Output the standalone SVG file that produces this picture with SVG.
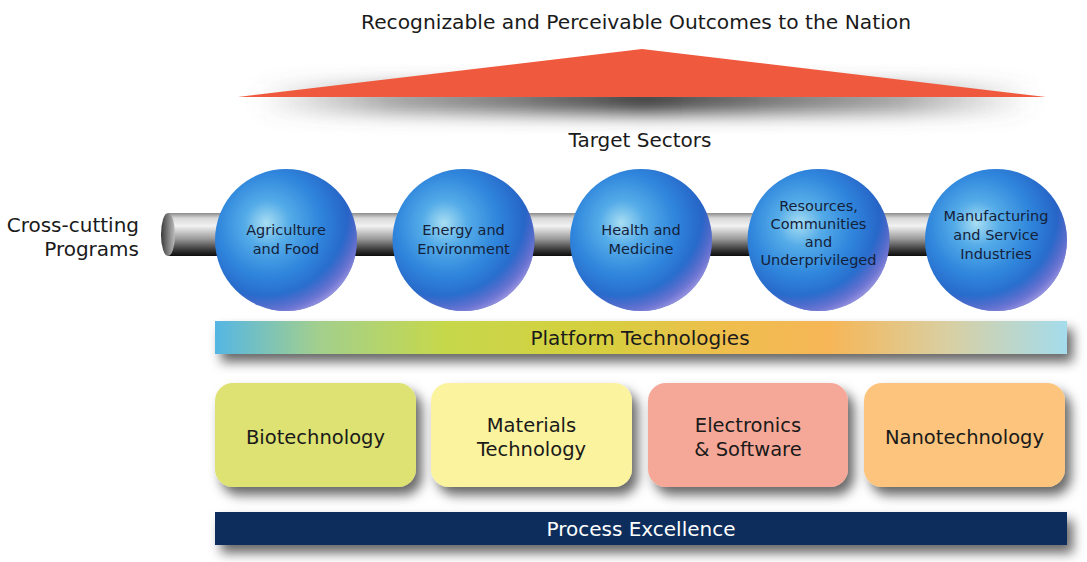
<svg xmlns="http://www.w3.org/2000/svg" width="1087" height="562" viewBox="0 0 1087 562">
<defs>
<style>
.t{font-family:"DejaVu Sans","Open Sans","Liberation Sans",sans-serif;fill:#1a1a1a;}
.big{font-size:20px;}
.box{font-size:19.5px;}
.sec{font-size:14.5px;fill:#14213a;}
</style>
<linearGradient id="pipe" x1="0" y1="0" x2="0" y2="1">
<stop offset="0" stop-color="#8c8c8c"/>
<stop offset="0.12" stop-color="#d8d8d8"/>
<stop offset="0.3" stop-color="#f2f2f2"/>
<stop offset="0.6" stop-color="#9a9a9a"/>
<stop offset="0.85" stop-color="#3a3a3a"/>
<stop offset="1" stop-color="#0c0c0c"/>
</linearGradient>
<linearGradient id="cap" x1="0" y1="0" x2="1" y2="0">
<stop offset="0" stop-color="#3a3a3a"/>
<stop offset="0.6" stop-color="#8a8a8a"/>
<stop offset="1" stop-color="#bdbdbd"/>
</linearGradient>
<radialGradient id="ball" cx="0.4" cy="0.4" r="0.72" fx="0.36" fy="0.38">
<stop offset="0" stop-color="#a8def3"/>
<stop offset="0.22" stop-color="#55ace8"/>
<stop offset="0.5" stop-color="#2f86dc"/>
<stop offset="0.75" stop-color="#2766c8"/>
<stop offset="1" stop-color="#2348a8"/>
</radialGradient>
<radialGradient id="rim" cx="0.34" cy="0.3" r="0.8">
<stop offset="0.74" stop-color="#8f7ad8" stop-opacity="0"/>
<stop offset="0.88" stop-color="#9a86e0" stop-opacity="0.6"/>
<stop offset="1" stop-color="#d0c0f4" stop-opacity="0.95"/>
</radialGradient>
<linearGradient id="plat" x1="0" y1="0" x2="1" y2="0">
<stop offset="0" stop-color="#55b6e4"/>
<stop offset="0.12" stop-color="#a2cf8e"/>
<stop offset="0.27" stop-color="#c6d84a"/>
<stop offset="0.45" stop-color="#d6cf3e"/>
<stop offset="0.6" stop-color="#efbe4e"/>
<stop offset="0.72" stop-color="#f6b656"/>
<stop offset="0.86" stop-color="#d9cfa2"/>
<stop offset="1" stop-color="#a4dcec"/>
</linearGradient>
<linearGradient id="trishadow" x1="0" y1="0" x2="1" y2="0">
<stop offset="0" stop-color="#666" stop-opacity="0"/>
<stop offset="0.18" stop-color="#555" stop-opacity="0.55"/>
<stop offset="0.5" stop-color="#3a3a3a" stop-opacity="1"/>
<stop offset="0.82" stop-color="#555" stop-opacity="0.55"/>
<stop offset="1" stop-color="#666" stop-opacity="0"/>
</linearGradient>
<filter id="sh" x="-10%" y="-30%" width="125%" height="190%">
<feDropShadow dx="6" dy="8" stdDeviation="6" flood-color="#000" flood-opacity="0.6"/>
</filter>
<filter id="blur" x="-20%" y="-150%" width="140%" height="400%">
<feGaussianBlur stdDeviation="9"/>
</filter>
</defs>
<rect width="1087" height="562" fill="#ffffff"/>

<g id="outcomes">
<text class="t big" x="636" y="29" text-anchor="middle" textLength="550" lengthAdjust="spacingAndGlyphs">Recognizable and Perceivable Outcomes to the Nation</text>
<rect x="255" y="84" width="780" height="30" fill="url(#trishadow)" filter="url(#blur)"/>
<polygon points="238,97 642,49 1046,97" fill="#ef5a3e"/>
</g>

<g id="target-sectors-label">
<text class="t big" x="640" y="147" text-anchor="middle">Target Sectors</text>
</g>

<g id="cross-cutting">
<text class="t big" x="139" y="232" text-anchor="end">Cross-cutting</text>
<text class="t big" x="139" y="256" text-anchor="end">Programs</text>
</g>

<g id="connectors">
<rect x="168" y="213" width="830" height="43" fill="url(#pipe)"/>
<ellipse cx="168" cy="234.5" rx="7" ry="21.5" fill="url(#cap)"/>
</g>

<g id="agriculture">
<circle cx="286" cy="240" r="71" fill="url(#ball)"/>
<circle cx="286" cy="240" r="71" fill="url(#rim)"/>
<text class="t sec" x="286" y="235" text-anchor="middle">Agriculture</text>
<text class="t sec" x="286" y="254" text-anchor="middle">and Food</text>
</g>
<g id="energy">
<circle cx="463.5" cy="240" r="71" fill="url(#ball)"/>
<circle cx="463.5" cy="240" r="71" fill="url(#rim)"/>
<text class="t sec" x="463.5" y="235" text-anchor="middle">Energy and</text>
<text class="t sec" x="463.5" y="254" text-anchor="middle">Environment</text>
</g>
<g id="health">
<circle cx="641" cy="240" r="71" fill="url(#ball)"/>
<circle cx="641" cy="240" r="71" fill="url(#rim)"/>
<text class="t sec" x="641" y="235" text-anchor="middle">Health and</text>
<text class="t sec" x="641" y="254" text-anchor="middle">Medicine</text>
</g>
<g id="resources">
<circle cx="818.5" cy="240" r="71" fill="url(#ball)"/>
<circle cx="818.5" cy="240" r="71" fill="url(#rim)"/>
<text class="t sec" x="818.5" y="211" text-anchor="middle">Resources,</text>
<text class="t sec" x="818.5" y="229" text-anchor="middle">Communities</text>
<text class="t sec" x="818.5" y="247" text-anchor="middle">and</text>
<text class="t sec" x="818.5" y="265" text-anchor="middle">Underprivileged</text>
</g>
<g id="manufacturing">
<circle cx="996" cy="240" r="71" fill="url(#ball)"/>
<circle cx="996" cy="240" r="71" fill="url(#rim)"/>
<text class="t sec" x="996" y="221" text-anchor="middle">Manufacturing</text>
<text class="t sec" x="996" y="240" text-anchor="middle">and Service</text>
<text class="t sec" x="996" y="259" text-anchor="middle">Industries</text>
</g>

<g id="platform">
<rect x="215" y="321" width="852" height="33" fill="url(#plat)" filter="url(#sh)"/>
<text class="t big" x="640" y="345" text-anchor="middle">Platform Technologies</text>
</g>

<g id="biotechnology">
<rect x="215" y="383" width="201" height="104" rx="18" fill="#dde273" filter="url(#sh)"/>
<text class="t box" x="315.5" y="444" text-anchor="middle">Biotechnology</text>
</g>
<g id="materials">
<rect x="431" y="383" width="201" height="104" rx="18" fill="#fbf39e" filter="url(#sh)"/>
<text class="t box" x="531.5" y="432" text-anchor="middle">Materials</text>
<text class="t box" x="531.5" y="456" text-anchor="middle">Technology</text>
</g>
<g id="electronics">
<rect x="648" y="383" width="200" height="104" rx="18" fill="#f6a898" filter="url(#sh)"/>
<text class="t box" x="748" y="432" text-anchor="middle">Electronics</text>
<text class="t box" x="748" y="456" text-anchor="middle">&amp; Software</text>
</g>
<g id="nanotechnology">
<rect x="864" y="383" width="201" height="104" rx="18" fill="#fcc47c" filter="url(#sh)"/>
<text class="t box" x="964.5" y="444" text-anchor="middle">Nanotechnology</text>
</g>

<g id="process">
<rect x="215" y="512" width="852" height="33" fill="#0c2d5c" filter="url(#sh)"/>
<text class="t big" x="641" y="536" text-anchor="middle" style="fill:#ffffff">Process Excellence</text>
</g>
</svg>
